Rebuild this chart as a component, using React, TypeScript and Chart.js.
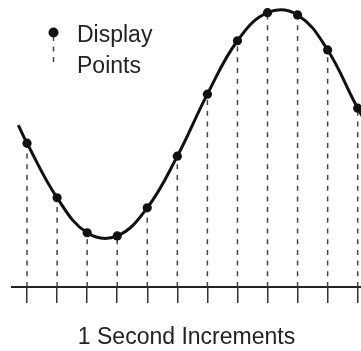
import React, { useEffect, useRef } from "react";
import { Chart, registerables } from "chart.js";

Chart.register(...registerables);

// ---- data ----
const sampleIndex = [0, 1, 2, 3, 4, 5, 6, 7, 8, 9, 10, 11];
const displayValues = [50.1, 31.1, 18.9, 17.8, 27.6, 45.6, 67.2, 85.8, 95.6, 94.8, 82.6, 62.3];
const curveLeadX = [-0.29];
const curveLeadY = [56.4];
const curveTailX = [12];
const curveTailY = [45];
const legendLabels = ["Display", "Points"];
const xAxisTitle = "1 Second Increments";

const FONT = "'Liberation Sans', Arial, Helvetica, sans-serif";

const legendPlugin = {
  id: "dpLegend",
  afterDraw(chart: any) {
    const ctx = chart.ctx as CanvasRenderingContext2D;
    ctx.save();
    ctx.strokeStyle = "#444";
    ctx.lineWidth = 1.5;
    ctx.setLineDash([5, 5.5]);
    ctx.beginPath();
    ctx.moveTo(53.5, 36);
    ctx.lineTo(53.5, 63);
    ctx.stroke();
    ctx.setLineDash([]);
    ctx.fillStyle = "#111";
    ctx.beginPath();
    ctx.arc(53.5, 32.5, 5, 0, Math.PI * 2);
    ctx.fill();
    ctx.font = `23px ${FONT}`;
    ctx.textBaseline = "alphabetic";
    ctx.textAlign = "left";
    ctx.fillStyle = "#222";
    ctx.fillText(legendLabels[0], 77, 41.7);
    ctx.fillText(legendLabels[1], 77, 72.7);
    ctx.restore();
  },
};

export default function App() {
  const ref = useRef<HTMLCanvasElement | null>(null);

  useEffect(() => {
    if (!ref.current) return;
    const curveData = [
      ...curveLeadX.map((x, i) => ({ x, y: curveLeadY[i] })),
      ...sampleIndex.map((x, i) => ({ x, y: displayValues[i] })),
      ...curveTailX.map((x, i) => ({ x, y: curveTailY[i] })),
    ];
    const dropLines = sampleIndex.map((x, i) => ({
      type: "line" as const,
      data: [
        { x, y: 0 },
        { x, y: displayValues[i] },
      ],
      borderColor: "#444",
      borderWidth: 1.5,
      borderDash: [5, 5.7],
      pointRadius: 0,
      tension: 0,
      order: 3,
    }));
    const chart = new Chart(ref.current, {
      type: "line",
      data: {
        datasets: [
          {
            data: sampleIndex.map((x, i) => ({ x, y: displayValues[i] })),
            showLine: false,
            pointRadius: 4.6,
            pointBackgroundColor: "#111",
            pointBorderColor: "#111",
            pointBorderWidth: 0,
            order: 0,
          },
          {
            data: curveData,
            borderColor: "#111",
            borderWidth: 3,
            pointRadius: 0,
            tension: 0.4,
            order: 1,
          },
          ...dropLines,
        ] as any,
      },
      options: {
        responsive: false,
        animation: false,
        devicePixelRatio: 1,
        layout: { autoPadding: false, padding: { left: 12, right: 0, top: 0, bottom: 0 } },
        plugins: {
          legend: { display: false },
          tooltip: { enabled: false },
        },
        scales: {
          x: {
            type: "linear",
            min: -0.5,
            max: 11.11,
            ticks: { stepSize: 1, includeBounds: false, display: false },
            grid: {
              drawOnChartArea: false,
              drawTicks: true,
              tickLength: 16,
              color: "#333",
              lineWidth: 1.5,
            },
            border: { display: true, color: "#222", width: 2 },
            title: {
              display: true,
              text: xAxisTitle,
              color: "#222",
              font: { family: FONT, size: 23 },
              padding: { top: 20.4, bottom: 0 },
            },
          },
          y: {
            display: false,
            min: 0,
            max: 100,
          },
        },
      },
      plugins: [legendPlugin],
    });
    return () => chart.destroy();
  }, []);

  return (
    <div style={{ position: "absolute", left: 0, top: 0, width: 361, height: 351, background: "#fff" }}>
      <canvas ref={ref} width={361} height={351} />
    </div>
  );
}
